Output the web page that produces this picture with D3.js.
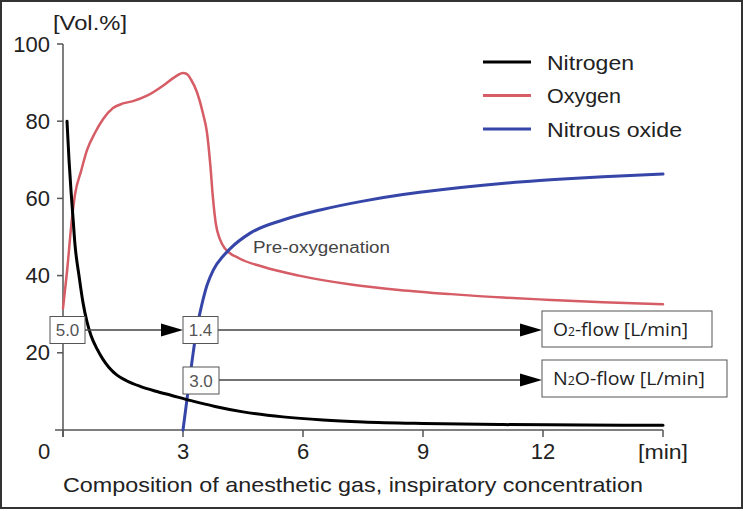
<!DOCTYPE html>
<html>
<head>
<meta charset="utf-8">
<script src="https://cdn.jsdelivr.net/npm/d3@7"></script>
<style>
  html, body { margin: 0; padding: 0; background: #fff; }
  svg { display: block; }
  text { font-family: "Liberation Sans", Arial, sans-serif; }
</style>
</head>
<body>
<svg id="chart" width="743" height="511"></svg>
<script>
// ---- data ----
const nitrogenT = [0.1,0.15,0.2,0.25,0.3,0.4,0.5,0.6,0.7,0.85,1.0,1.15,1.35,1.6,1.93,2.3,2.7,3.2,3.8,4.5,5.5,6.5,7.5,9,11,13,15];
const nitrogenV = [80,70,62,55,48,40,33,28,24.5,21,18.3,16.2,14.2,12.7,11.3,10.1,9.0,7.6,6.1,4.7,3.4,2.6,2.1,1.7,1.4,1.3,1.2];

const oxygenT = [0,0.1,0.22,0.3,0.45,0.6,0.8,1.0,1.25,1.5,1.75,2.1,2.5,2.8,3.0,3.1,3.2,3.35,3.5,3.6,3.68,3.75,3.82,3.92,4.05,4.4,5.0,5.9,7.2,8.4,9.7,11,12.2,13.5,15];
const oxygenV = [31.5,41,54.4,61,67,72.5,77,80.5,83.4,84.6,85.2,86.6,89.2,91.5,92.5,92.2,90.8,87.5,82,77,69,60,53.5,49.5,47,44.5,42.3,40,37.7,36.3,35.2,34.3,33.7,33.1,32.6];

const nitrousT = [3.0,3.1,3.22,3.34,3.46,3.6,3.76,4.0,4.18,4.68,5.5,6.43,7.5,8.5,9.5,10.5,11.5,12.5,13.5,15];
const nitrousV = [0,8,17.4,26,32,37.5,41.5,45,47,51,54.4,57,59.3,61,62.3,63.4,64.3,65,65.6,66.3];

const seriesNames = ["Nitrogen", "Oxygen", "Nitrous oxide"];
const seriesColors = ["#000000", "#d65c66", "#3545a8"];

const xTicks = [0, 3, 6, 9, 12];
const yTicks = [20, 40, 60, 80, 100];

// flow annotation labels
const o2Flow = ["5.0", "1.4"];
const n2oFlow = ["3.0"];

// ---- drawing ----
const svg = d3.select("#chart");
const x = d3.scaleLinear().domain([0, 15]).range([63, 663]);
const y = d3.scaleLinear().domain([0, 100]).range([430, 44]);
const axisColor = "#555";

// frame
svg.append("rect").attr("x", 1).attr("y", 1).attr("width", 741).attr("height", 507)
  .attr("fill", "none").attr("stroke", "#333").attr("stroke-width", 2);

// axes lines
svg.append("line").attr("x1", 55).attr("x2", x(15)).attr("y1", y(0)).attr("y2", y(0))
  .attr("stroke", axisColor).attr("stroke-width", 1.5);
svg.append("line").attr("x1", x(0)).attr("x2", x(0)).attr("y1", y(100)).attr("y2", y(0) + 7)
  .attr("stroke", axisColor).attr("stroke-width", 1.5);

// y ticks
const yAxisG = svg.append("g");
yTicks.forEach(v => {
  yAxisG.append("line").attr("x1", x(0) - 6).attr("x2", x(0)).attr("y1", y(v)).attr("y2", y(v))
    .attr("stroke", axisColor).attr("stroke-width", 1.5);
  yAxisG.append("text").attr("x", x(0) - 13).attr("y", y(v) + 7.5).attr("text-anchor", "end")
    .attr("font-size", 22).attr("fill", "#222").text(v);
});
// x ticks
const xAxisG = svg.append("g");
xTicks.concat([15]).forEach(t => {
  xAxisG.append("line").attr("x1", x(t)).attr("x2", x(t)).attr("y1", y(0)).attr("y2", y(0) + 7)
    .attr("stroke", axisColor).attr("stroke-width", 1.5);
});
xTicks.forEach(t => {
  xAxisG.append("text").attr("x", t === 0 ? x(0) - 19 : x(t)).attr("y", 458.5).attr("text-anchor", "middle")
    .attr("font-size", 22).attr("fill", "#222").text(t);
});
svg.append("text").attr("x", x(15)).attr("y", 458.5).attr("text-anchor", "middle")
  .attr("font-size", 21).attr("fill", "#222").attr("textLength", 50).attr("lengthAdjust", "spacingAndGlyphs").text("[min]");
svg.append("text").attr("x", 53).attr("y", 30).attr("text-anchor", "start")
  .attr("font-size", 21).attr("fill", "#222").attr("textLength", 74).attr("lengthAdjust", "spacingAndGlyphs").text("[Vol.%]");
svg.append("text").attr("x", 63).attr("y", 492).attr("text-anchor", "start")
  .attr("font-size", 21).attr("fill", "#222").attr("textLength", 580).attr("lengthAdjust", "spacingAndGlyphs")
  .text("Composition of anesthetic gas, inspiratory concentration");

// lines
const line = d3.line().x(d => x(d[0])).y(d => y(d[1])).curve(d3.curveMonotoneX);
const data = [
  d3.zip(nitrogenT, nitrogenV),
  d3.zip(oxygenT, oxygenV),
  d3.zip(nitrousT, nitrousV)
];
const widths = [3, 2.5, 3];
[1, 2, 0].forEach(i => {
  svg.append("path").attr("d", line(data[i])).attr("fill", "none")
    .attr("stroke", seriesColors[i]).attr("stroke-width", widths[i])
    .attr("stroke-linejoin", "round").attr("stroke-linecap", "round");
});

// Pre-oxygenation label
svg.append("text").attr("x", 253).attr("y", 253).attr("font-size", 16).attr("fill", "#444")
  .attr("textLength", 137).attr("lengthAdjust", "spacingAndGlyphs").text("Pre-oxygenation");

// legend
const leg = svg.append("g");
const legLens = [87, 74, 135];
seriesNames.forEach((n, i) => {
  const ly = 62 + i * 33.5;
  leg.append("line").attr("x1", 483).attr("x2", 531).attr("y1", ly).attr("y2", ly)
    .attr("stroke", seriesColors[i]).attr("stroke-width", 3);
  leg.append("text").attr("x", 547).attr("y", ly + 7.5).attr("font-size", 21).attr("fill", "#222")
    .attr("textLength", legLens[i]).attr("lengthAdjust", "spacingAndGlyphs").text(n);
});

// arrows and boxes
const arrowColor = "#444";
function arrow(x1, x2, yy) {
  svg.append("line").attr("x1", x1).attr("x2", x2 - 18).attr("y1", yy).attr("y2", yy)
    .attr("stroke", arrowColor).attr("stroke-width", 1.5);
  svg.append("path").attr("d", `M${x2},${yy} L${x2 - 22},${yy - 6.5} L${x2 - 22},${yy + 6.5} Z`).attr("fill", "#000");
}
function box(cx, yy, w, label) {
  svg.append("rect").attr("x", cx).attr("y", yy - 13.5).attr("width", w).attr("height", 27)
    .attr("fill", "#fff").attr("stroke", "#555").attr("stroke-width", 1);
  svg.append("text").attr("x", cx + w / 2).attr("y", yy + 6).attr("text-anchor", "middle")
    .attr("font-size", 17).attr("fill", "#555").text(label);
}
const row1 = 330, row2 = 380;
arrow(85, x(3), row1);
arrow(218, 542, row1);
arrow(219, 542, row2);
box(50, row1, 35, o2Flow[0]);
box(x(3), row1, 35, o2Flow[1]);
box(x(3), row2 + 0.5, 36, n2oFlow[0]);

function flowBox(yy, w, h, len, parts) {
  svg.append("rect").attr("x", 542).attr("y", yy - h / 2).attr("width", w).attr("height", h)
    .attr("fill", "#fff").attr("stroke", "#555").attr("stroke-width", 1);
  const t = svg.append("text").attr("x", 553).attr("y", yy + 6.5).attr("font-size", 19)
    .attr("fill", "#222").attr("textLength", len).attr("lengthAdjust", "spacingAndGlyphs")
    .style("font-family", "'Open Sans', 'DejaVu Sans', sans-serif");
  parts.forEach(p => t.append("tspan").attr("font-size", p[1]).text(p[0]));
}
flowBox(329, 170, 36, 135, [["O", 19], ["2", 12], ["-flow [L/min]", 19]]);
flowBox(378.5, 185, 37, 152, [["N", 19], ["2", 12], ["O-flow [L/min]", 19]]);
</script>
</body>
</html>
